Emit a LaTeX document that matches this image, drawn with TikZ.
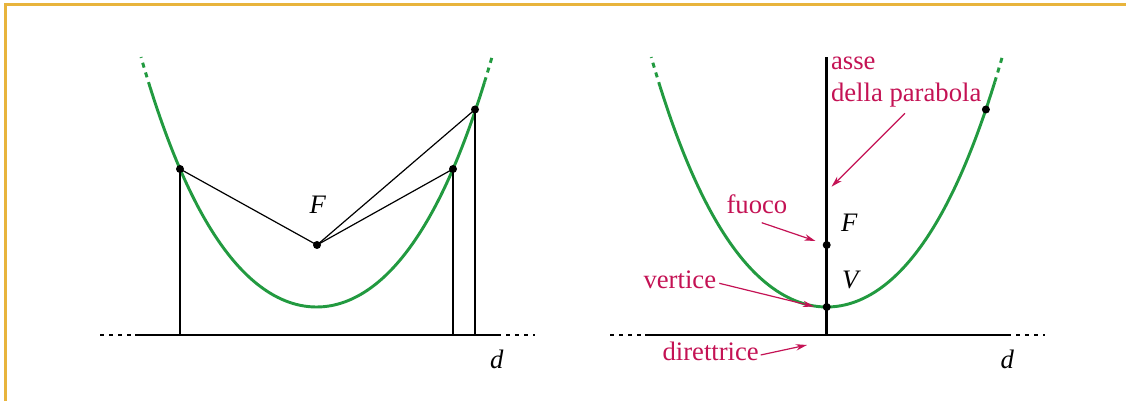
\documentclass[tikz,border=0pt]{standalone}
\usepackage{fontspec}
\setmainfont{Liberation Serif}
\usetikzlibrary{arrows.meta}
\definecolor{frameyellow}{RGB}{232,180,60}
\definecolor{pargreen}{RGB}{34,154,64}
\definecolor{labred}{RGB}{196,18,84}
\tikzset{
  frameline/.style={draw=frameyellow,line width=1.15pt},
  parab/.style={draw=pargreen,line width=1.1pt},
  parabdash/.style={draw=pargreen,line width=1.1pt,dash pattern=on 1.9pt off 1.9pt},
  dirline/.style={draw=black,line width=1.05pt},
  dirdots/.style={draw=black,line width=1.05pt,dash pattern=on 1.5pt off 1.9pt},
  thinline/.style={draw=black,line width=0.45pt},
  dot/.style={circle,fill=black,inner sep=0pt,minimum size=3pt},
  lab/.style={text=labred,anchor=base west,inner sep=0pt,font=\fontsize{10pt}{12pt}\selectfont},
  sym/.style={anchor=base west,inner sep=0pt,font=\fontsize{10pt}{12pt}\selectfont\itshape},
  labarrow/.style={draw=labred,line width=0.45pt,-{Stealth[length=4.2pt,width=2.4pt]}}
}
\begin{document}
\begin{tikzpicture}[x=0.375pt,y=-0.375pt]
\useasboundingbox (0,0) rectangle (1126,401);
% frame
\draw[frameline] (5.5,401) -- (5.5,4.5) -- (1126,4.5);

% ===== left figure =====
\coordinate (LdA) at (100,335);
\coordinate (LdB) at (135,335);
\coordinate (LdC) at (497,335);
\coordinate (LdD) at (535,335);
\draw[dirdots] (LdA) -- (LdB);
\draw[dirline] (LdB) -- (LdC);
\draw[dirdots] (LdC) -- (LdD);

\draw[parab] plot[domain=-1.665:1.68,samples=90,smooth] ({316.5+100*\x},{307-63.2*\x*\x-5.83*\x*\x*\x*\x});
\draw[parabdash] plot[domain=-1.665:-1.755,samples=8,smooth] ({316.5+100*\x},{307-63.2*\x*\x-5.83*\x*\x*\x*\x});
\draw[parabdash] plot[domain=1.68:1.765,samples=8,smooth] ({316.5+100*\x},{307-63.2*\x*\x-5.83*\x*\x*\x*\x});

\node[dot] (LF) at (317,245) {};
\node[dot] (LP1) at (180,169) {};
\node[dot] (LP2) at (453,169) {};
\node[dot] (LP3) at (475,109.5) {};
\coordinate (LQ1) at (180,335);
\coordinate (LQ2) at (453,335);
\coordinate (LQ3) at (475,335);
\draw[thinline] (LP1.center) -- (LF.center);
\draw[thinline] (LP2.center) -- (LF.center);
\draw[thinline] (LP3.center) -- (LF.center);
\draw[thinline] (LP1.center) -- (LQ1);
\draw[thinline] (LP2.center) -- (LQ2);
\draw[thinline] (LP3.center) -- (LQ3);
\node[sym] (LFlab) at (309,213.3) {F};
\node[sym] (Ldlab) at (489.5,368.3) {d};

% ===== right figure =====
\coordinate (RdA) at (610,335);
\coordinate (RdB) at (645,335);
\coordinate (RdC) at (1007,335);
\coordinate (RdD) at (1045,335);
\draw[dirdots] (RdA) -- (RdB);
\draw[dirline] (RdB) -- (RdC);
\draw[dirdots] (RdC) -- (RdD);

\coordinate (Rtop) at (826.7,57.5);
\coordinate (Rfoot) at (826.7,335);
\draw[dirline] (Rtop) -- (Rfoot);

\draw[parab] plot[domain=-1.665:1.68,samples=90,smooth] ({826.7+100*\x},{307-63.2*\x*\x-5.83*\x*\x*\x*\x});
\draw[parabdash] plot[domain=-1.665:-1.755,samples=8,smooth] ({826.7+100*\x},{307-63.2*\x*\x-5.83*\x*\x*\x*\x});
\draw[parabdash] plot[domain=1.68:1.765,samples=8,smooth] ({826.7+100*\x},{307-63.2*\x*\x-5.83*\x*\x*\x*\x});

\node[dot] (RF) at (826.7,245) {};
\node[dot] (RV) at (826.7,307) {};
\node[dot] (RP) at (985.9,109.5) {};

\node[sym] (RFlab) at (840.5,231.7) {F};
\node[sym] (RVlab) at (841.5,288.3) {V};
\node[sym] (Rdlab) at (1000,368.3) {d};

\node[lab] (asse) at (830.5,70) {asse};
\node[lab] (della) at (830.5,102) {della parabola};
\node[lab] (fuoco) at (726,213.3) {fuoco};
\node[lab] (vertice) at (643,288.3) {vertice};
\node[lab] (direttrice) at (662,360.7) {direttrice};

\coordinate (aA) at (905,113.3);
\coordinate (aB) at (831.5,186.7);
\coordinate (fA) at (761.7,222.7);
\coordinate (fB) at (815.5,241);
\coordinate (vA) at (719.3,283.3);
\coordinate (vB) at (814,306.5);
\coordinate (dA) at (760.7,355);
\coordinate (dB) at (807,345);
\draw[labarrow] (aA) -- (aB);
\draw[labarrow] (fA) -- (fB);
\draw[labarrow] (vA) -- (vB);
\draw[labarrow] (dA) -- (dB);
\end{tikzpicture}
\end{document}
